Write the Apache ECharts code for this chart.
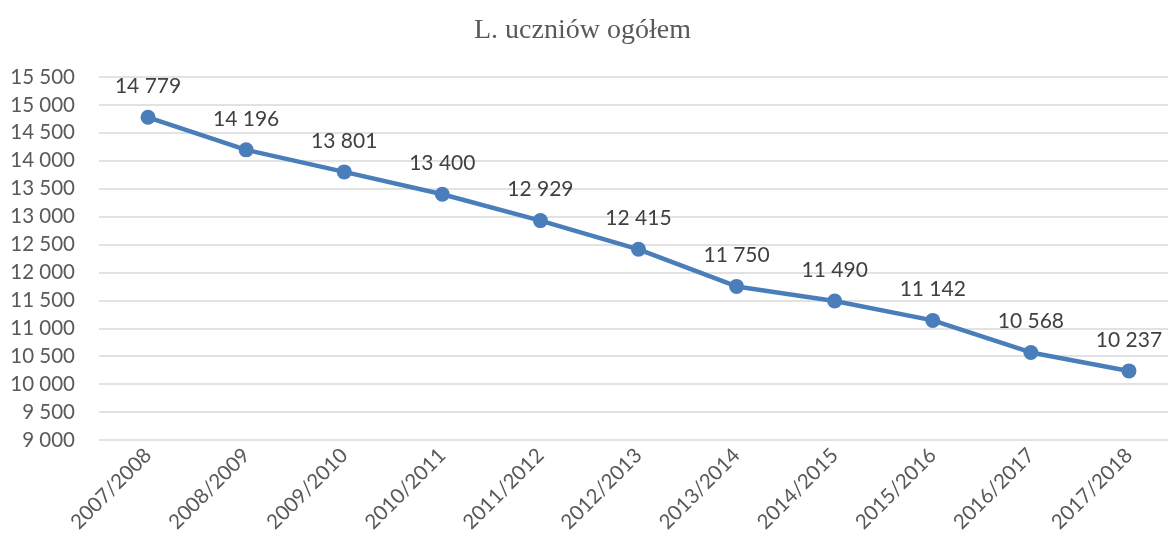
<!DOCTYPE html>
<html><head><meta charset="utf-8">
<script src="https://cdn.jsdelivr.net/npm/echarts@6/dist/echarts.min.js"></script>
<style>html,body{margin:0;padding:0;background:#fff;overflow:hidden}#c{width:1178px;height:546px}</style>
</head><body><div id="c"></div>
<script>
const categories = ['2007/2008','2008/2009','2009/2010','2010/2011','2011/2012','2012/2013','2013/2014','2014/2015','2015/2016','2016/2017','2017/2018'];
const values = [14779,14196,13801,13400,12929,12415,11750,11490,11142,10568,10237];
const yMin = 9000, yMax = 15500, yStep = 500;
const fmt = v => String(v).replace(/\B(?=(\d{3})+(?!\d))/g, ' ');
const chart = echarts.init(document.getElementById('c'));
chart.setOption({
  animation:false,
  backgroundColor:'#fff',
  title:{text:'L. uczniów ogółem',left:469,top:12,textStyle:{fontFamily:'Liberation Serif',fontSize:28,fontWeight:'normal',color:'#595959'}},
  grid:{left:99,right:0,top:77,bottom:106,containLabel:false},
  xAxis:{type:'category',data:categories,boundaryGap:true,
    axisLine:{show:false},axisTick:{show:false},
    axisLabel:{rotate:45,color:'#595959',fontFamily:'Lato',fontSize:20.5,margin:12,interval:0}},
  yAxis:{type:'value',min:yMin,max:yMax,interval:yStep,
    axisLine:{show:false},axisTick:{show:false},
    splitLine:{lineStyle:{color:'#d9d9d9',width:1.5}},
    axisLabel:{color:'#595959',fontFamily:'Lato',fontSize:20.5,margin:24,formatter:fmt}},
  series:[{type:'line',data:values,symbol:'circle',symbolSize:15,
    lineStyle:{color:'#4a7ebb',width:4.5},itemStyle:{color:'#4a7ebb'},
    label:{show:true,position:'top',distance:13,color:'#404040',fontFamily:'Lato',fontSize:21,formatter:p=>fmt(p.value)}}]
});
</script></body></html>
